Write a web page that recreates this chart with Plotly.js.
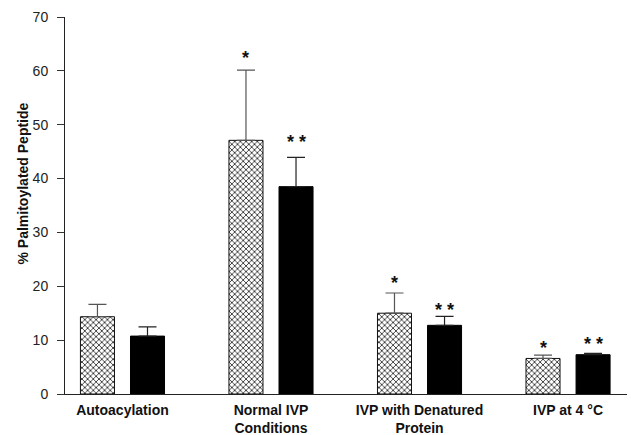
<!DOCTYPE html>
<html>
<head>
<meta charset="utf-8">
<script src="https://cdn.plot.ly/plotly-3.0.1.min.js"></script>
<style>html,body{margin:0;padding:0;background:#fff;}#chart{width:631px;height:435px;}</style>
</head>
<body>
<div id="chart"></div>
<script>
const categories = ['Autoacylation', 'Normal IVP<br>Conditions', 'IVP with Denatured<br>Protein', 'IVP at 4 °C'];
const hatchedValues = [14.35, 47.1, 15.0, 6.6];
const hatchedErrors = [2.3, 13.05, 3.75, 0.63];
const blackValues = [10.75, 38.5, 12.75, 7.3];
const blackErrors = [1.7, 5.45, 1.65, 0.26];
const hatchedStars = ['', '*', '*', '*'];
const hatchedStarY = [null, 63.3, 21.5, 9.4];
const blackStars = ['', '* *', '* *', '* *'];
const blackStarY = [null, 47.8, 16.5, 10.2];
const yTicks = [0, 10, 20, 30, 40, 50, 60, 70];

const xIdx = categories.map((c, i) => i);
const bargap = 0.326, bargroupgap = 0.32;
const half = (1 - bargap) / 4;
const FONT = 'Liberation Sans, Arial, sans-serif';

const traces = [
  {
    type: 'bar', x: xIdx, y: hatchedValues, name: 'hatched',
    marker: {color: '#ffffff', line: {color: '#111', width: 1},
      pattern: {shape: 'x', size: 4, solidity: 0.4, fgcolor: '#333', bgcolor: '#ffffff'}},
    error_y: {type: 'data', symmetric: false, array: hatchedErrors, arrayminus: hatchedErrors.map(() => 0),
      color: '#555', thickness: 1.2, width: 9},
    hoverinfo: 'skip'
  },
  {
    type: 'bar', x: xIdx, y: blackValues, name: 'black',
    marker: {color: '#000000', line: {color: '#000', width: 1}},
    error_y: {type: 'data', symmetric: false, array: blackErrors, arrayminus: blackErrors.map(() => 0),
      color: '#222', thickness: 1.2, width: 9},
    hoverinfo: 'skip'
  }
];

const annotations = [];
xIdx.forEach(i => {
  if (hatchedStars[i]) annotations.push({x: i - half, y: hatchedStarY[i], xref: 'x', yref: 'y', text: '<b>' + hatchedStars[i] + '</b>',
    showarrow: false, font: {family: FONT, size: 18, color: '#111'}, yanchor: 'middle', yshift: -5});
  if (blackStars[i]) annotations.push({x: i + half, y: blackStarY[i], xref: 'x', yref: 'y', text: '<b>' + blackStars[i] + '</b>',
    showarrow: false, font: {family: FONT, size: 18, color: '#111'}, yanchor: 'middle', yshift: -5});
});
annotations.push({xref: 'paper', yref: 'paper', x: -0.075, y: 0.558, text: '<b>% Palmitoylated Peptide</b>', textangle: -90,
  showarrow: false, xanchor: 'center', yanchor: 'middle',
  font: {family: FONT, size: 14, color: '#111'}});

const layout = {
  width: 631, height: 435,
  margin: {l: 65, r: 4, t: 17, b: 41, pad: 0},
  paper_bgcolor: '#fff', plot_bgcolor: '#fff',
  showlegend: false,
  barmode: 'group', bargap: bargap, bargroupgap: bargroupgap,
  font: {family: FONT, color: '#111'},
  xaxis: {
    range: [-0.387, 3.397], tickvals: xIdx, ticktext: categories.map(c => '<b>' + c + '</b>'),
    ticks: '', showline: true, linecolor: '#222', linewidth: 1, showgrid: false, zeroline: false,
    tickfont: {size: 14, color: '#111'}, ticklabelstandoff: 3, fixedrange: true, automargin: false
  },
  yaxis: {
    range: [0, 70], tickvals: yTicks, ticks: 'outside', ticklen: 7, tickcolor: '#333', tickwidth: 1,
    showline: true, linecolor: '#222', linewidth: 1, showgrid: false, zeroline: false,
    tickfont: {size: 14, color: '#222'}, ticklabelstandoff: 6, fixedrange: true, automargin: false
  },
  annotations: annotations
};

Plotly.newPlot('chart', traces, layout, {staticPlot: true, displayModeBar: false});
</script>
</body>
</html>
